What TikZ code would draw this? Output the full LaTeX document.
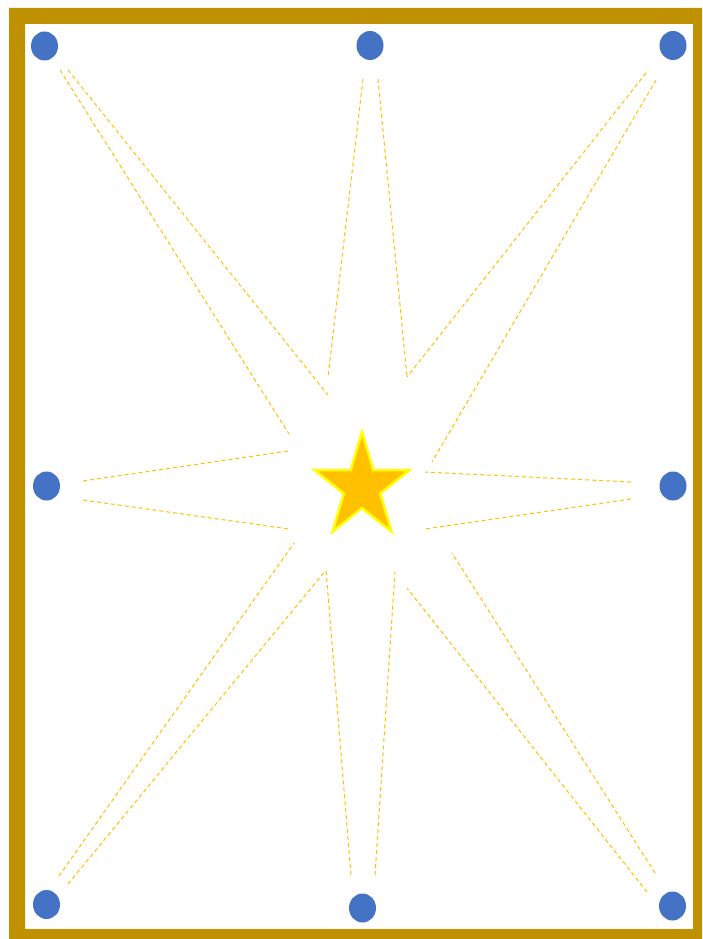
\documentclass[tikz,border=0pt]{standalone}
\usetikzlibrary{shapes.geometric}
\definecolor{framegold}{HTML}{BF9000}
\definecolor{dotblue}{HTML}{4472C4}
\definecolor{staror}{HTML}{FFC000}
\definecolor{staryl}{HTML}{FFFF00}
\tikzset{
  dotnode/.style={ellipse, fill=dotblue, draw=none, minimum width=27pt, minimum height=29pt, inner sep=0pt},
  rayline/.style={draw=staror, line width=1pt, dash pattern=on 4pt off 3pt},
}
\begin{document}
\begin{tikzpicture}[x=1pt,y=-1pt]
\useasboundingbox (0,0) rectangle (702,939);
\fill[white] (0,0) rectangle (702,939);
% frame
\fill[framegold, even odd rule] (9,8) rectangle (702,939) (25,24) rectangle (693,929);
% dots
\node[dotnode] (tl) at (44.5,46) {};
\node[dotnode] (tc) at (370,45.5) {};
\node[dotnode] (tr) at (673,45.5) {};
\node[dotnode] (ml) at (46.5,486) {};
\node[dotnode] (mr) at (673,486) {};
\node[dotnode] (bl) at (46.5,904.5) {};
\node[dotnode] (bc) at (362.5,908) {};
\node[dotnode] (br) at (672.5,906) {};
% star
\coordinate (star) at (362,487);
\draw[fill=staror, draw=staryl, line width=2.5pt, line join=miter]
  (362,432) -- (373.2,470) -- (409.6,470) -- (380.2,493.5) -- (391.4,531.5)
  -- (362,508) -- (332.6,531.5) -- (343.8,493.5) -- (314.4,470) -- (350.8,470) -- cycle;
% ray end points
\coordinate (a1) at (60,70);   \coordinate (a2) at (289,434);
\coordinate (b1) at (68,70);   \coordinate (b2) at (328,395);
\coordinate (c1) at (363,79);  \coordinate (c2) at (328,377);
\coordinate (d1) at (378,79);  \coordinate (d2) at (407,377);
\coordinate (e1) at (646,73);  \coordinate (e2) at (407,377);
\coordinate (f1) at (656,80);  \coordinate (f2) at (432,462);
\coordinate (g1) at (83,481);  \coordinate (g2) at (288,451);
\coordinate (h1) at (83,500);  \coordinate (h2) at (289,529);
\coordinate (i1) at (631,482); \coordinate (i2) at (425,472);
\coordinate (j1) at (631,499); \coordinate (j2) at (425,529);
\coordinate (k1) at (59,876);  \coordinate (k2) at (294,543);
\coordinate (l1) at (68,884);  \coordinate (l2) at (326,570);
\coordinate (m1) at (351,875); \coordinate (m2) at (326,570);
\coordinate (n1) at (375,875); \coordinate (n2) at (395,572);
\coordinate (o1) at (655,873); \coordinate (o2) at (452,553);
\coordinate (p1) at (647,892); \coordinate (p2) at (407,588);
\foreach \r in {a,b,c,d,e,f,g,h,i,j,k,l,m,n,o,p}{
  \draw[rayline] (\r1) -- (\r2);
}
\end{tikzpicture}
\end{document}
